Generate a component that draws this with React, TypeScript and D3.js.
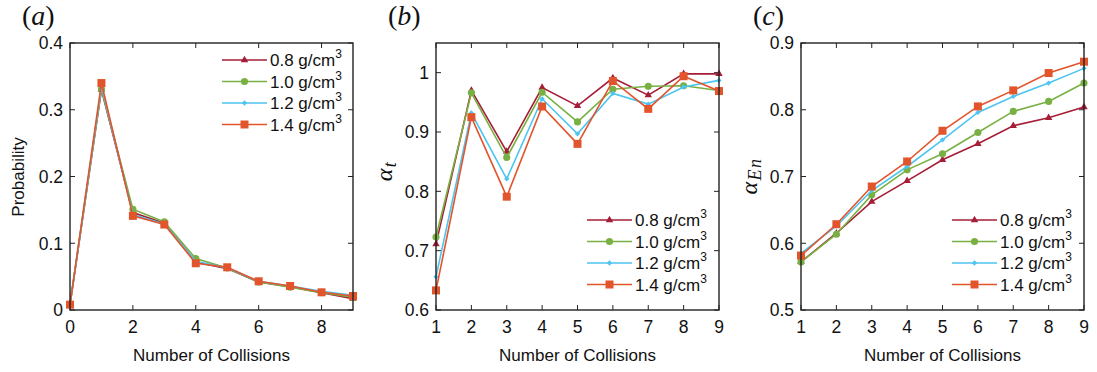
import React, { useRef, useEffect } from "react";
import * as d3 from "d3";

const densities = ["0.8", "1.0", "1.2", "1.4"];
const seriesColors = ["#a51d36", "#78b043", "#4ec4f0", "#e2542b"];

const collisionsA = [0, 1, 2, 3, 4, 5, 6, 7, 8, 9];
const collisionsBC = [1, 2, 3, 4, 5, 6, 7, 8, 9];

// (a) probability of n collisions
const prob08 = [0.008, 0.33, 0.146, 0.13, 0.072, 0.062, 0.042, 0.035, 0.026, 0.017];
const prob10 = [0.008, 0.331, 0.151, 0.132, 0.077, 0.063, 0.042, 0.034, 0.026, 0.019];
const prob12 = [0.008, 0.335, 0.143, 0.129, 0.073, 0.063, 0.043, 0.036, 0.028, 0.022];
const prob14 = [0.008, 0.34, 0.141, 0.128, 0.07, 0.064, 0.043, 0.036, 0.0265, 0.021];

// (b) alpha_t
const alphaT08 = [0.711, 0.97, 0.867, 0.975, 0.944, 0.991, 0.962, 0.998, 0.998];
const alphaT10 = [0.723, 0.966, 0.857, 0.967, 0.917, 0.972, 0.977, 0.978, 0.97];
const alphaT12 = [0.656, 0.932, 0.821, 0.956, 0.897, 0.965, 0.947, 0.976, 0.987];
const alphaT14 = [0.633, 0.925, 0.791, 0.943, 0.88, 0.986, 0.939, 0.994, 0.969];

// (c) alpha_En
const alphaEn08 = [0.572, 0.615, 0.6625, 0.6935, 0.725, 0.749, 0.776, 0.788, 0.804];
const alphaEn10 = [0.572, 0.6135, 0.6725, 0.71, 0.734, 0.766, 0.7975, 0.8125, 0.84];
const alphaEn12 = [0.585, 0.626, 0.679, 0.715, 0.755, 0.796, 0.82, 0.84, 0.862];
const alphaEn14 = [0.5815, 0.6285, 0.685, 0.7225, 0.7685, 0.805, 0.829, 0.855, 0.872];

const xTicksA = [0, 2, 4, 6, 8];
const yTicksA = [0, 0.1, 0.2, 0.3, 0.4];
const yTicksB = [0.6, 0.7, 0.8, 0.9, 1];
const yTicksC = [0.5, 0.6, 0.7, 0.8, 0.9];

const SANS = "'Liberation Sans', Arial, Helvetica, sans-serif";
const SERIF = "'Liberation Serif', 'Times New Roman', serif";

const symbolTypes = [d3.symbolTriangle, d3.symbolCircle, d3.symbolSquare, d3.symbolSquare];
const symbolSizes = [24, 40, 14, 64];
const symbolRotate = [0, 0, 45, 0];

export default function App() {
  const svgRef = useRef(null);

  useEffect(() => {
    const width = 1097;
    const height = 372;
    const top = 43;
    const bottom = 310;

    const panels = [
      {
        tag: "a",
        left: 70,
        right: 353,
        xs: collisionsA,
        xDomain: [0, 9],
        xTicks: xTicksA,
        yDomain: [0, 0.4],
        yTicks: yTicksA,
        series: [prob08, prob10, prob12, prob14],
        yLabel: "prob",
        labelY: 177,
        legendX: 222,
        legendY: 60,
      },
      {
        tag: "b",
        left: 436,
        right: 719,
        xs: collisionsBC,
        xDomain: [1, 9],
        xTicks: collisionsBC,
        yDomain: [0.6, 1.05],
        yTicks: yTicksB,
        series: [alphaT08, alphaT10, alphaT12, alphaT14],
        yLabel: "t",
        labelY: 171,
        legendX: 587,
        legendY: 220,
      },
      {
        tag: "c",
        left: 801,
        right: 1084,
        xs: collisionsBC,
        xDomain: [1, 9],
        xTicks: collisionsBC,
        yDomain: [0.5, 0.9],
        yTicks: yTicksC,
        series: [alphaEn08, alphaEn10, alphaEn12, alphaEn14],
        yLabel: "En",
        labelY: 176,
        legendX: 952,
        legendY: 220,
      },
    ];

    const svg = d3
      .select(svgRef.current)
      .attr("width", width)
      .attr("height", height)
      .attr("viewBox", [0, 0, width, height]);
    svg.selectAll("*").remove();
    svg.append("rect").attr("width", width).attr("height", height).attr("fill", "#fff");

    const tickLen = 5;

    panels.forEach((p) => {
      const x = d3.scaleLinear().domain(p.xDomain).range([p.left, p.right]);
      const y = d3.scaleLinear().domain(p.yDomain).range([bottom, top]);
      const g = svg.append("g");

      // ticks, mirrored on all sides
      p.xTicks.forEach((t) => {
        g.append("line")
          .attr("x1", x(t)).attr("x2", x(t))
          .attr("y1", bottom).attr("y2", bottom - tickLen)
          .attr("stroke", "#222").attr("stroke-width", 1);
        g.append("line")
          .attr("x1", x(t)).attr("x2", x(t))
          .attr("y1", top).attr("y2", top + tickLen)
          .attr("stroke", "#222").attr("stroke-width", 1);
        g.append("text")
          .attr("x", x(t)).attr("y", 333)
          .attr("text-anchor", "middle")
          .attr("font-family", SANS).attr("font-size", 17.5)
          .attr("fill", "#111")
          .text(String(t));
      });
      p.yTicks.forEach((t) => {
        g.append("line")
          .attr("x1", p.left).attr("x2", p.left + tickLen)
          .attr("y1", y(t)).attr("y2", y(t))
          .attr("stroke", "#222").attr("stroke-width", 1);
        g.append("line")
          .attr("x1", p.right).attr("x2", p.right - tickLen)
          .attr("y1", y(t)).attr("y2", y(t))
          .attr("stroke", "#222").attr("stroke-width", 1);
        g.append("text")
          .attr("x", p.left - 7).attr("y", y(t))
          .attr("dy", "0.36em")
          .attr("text-anchor", "end")
          .attr("font-family", SANS).attr("font-size", 17.5)
          .attr("fill", "#111")
          .text(String(+t.toFixed(2)));
      });

      // series
      const line = d3
        .line<number>()
        .x((_, i) => x(p.xs[i]))
        .y((d) => y(d));
      p.series.forEach((vals, si) => {
        g.append("path")
          .attr("d", line(vals))
          .attr("fill", "none")
          .attr("stroke", seriesColors[si])
          .attr("stroke-width", 1.6);
        const sym = d3.symbol().type(symbolTypes[si]).size(symbolSizes[si]);
        g.selectAll(null)
          .data(vals)
          .join("path")
          .attr("d", sym)
          .attr("fill", seriesColors[si])
          .attr(
            "transform",
            (d, i) => `translate(${x(p.xs[i])},${y(d)}) rotate(${symbolRotate[si]})`
          );
      });

      // frame
      g.append("rect")
        .attr("x", p.left).attr("y", top)
        .attr("width", p.right - p.left).attr("height", bottom - top)
        .attr("fill", "none").attr("stroke", "#222").attr("stroke-width", 1.4);

      // x label
      g.append("text")
        .attr("x", (p.left + p.right) / 2).attr("y", 361)
        .attr("text-anchor", "middle")
        .attr("font-family", SANS).attr("font-size", 17)
        .attr("fill", "#111")
        .text("Number of Collisions");

      // y label
      if (p.yLabel === "prob") {
        g.append("text")
          .attr("transform", `translate(24,${p.labelY}) rotate(-90)`)
          .attr("text-anchor", "middle")
          .attr("font-family", SANS).attr("font-size", 17)
          .attr("fill", "#111")
          .text("Probability");
      } else {
        const lab = g.append("text")
          .attr("transform", `translate(${p.left - 44},${p.labelY}) rotate(-90)`)
          .attr("text-anchor", "middle")
          .attr("font-family", SERIF).attr("font-style", "italic")
          .attr("font-size", 24)
          .attr("letter-spacing", 1.5)
          .attr("fill", "#111");
        lab.append("tspan").text("α");
        lab.append("tspan").attr("font-size", 18).attr("dy", 4).text(p.yLabel);
      }

      // panel tag
      const tag = g.append("text")
        .attr("x", p.left - 48).attr("y", 25)
        .attr("font-family", SERIF).attr("font-size", 28)
        .attr("fill", "#111");
      tag.append("tspan").text("(");
      tag.append("tspan").attr("font-style", "italic").text(p.tag);
      tag.append("tspan").text(")");

      // legend
      densities.forEach((dens, si) => {
        const ly = p.legendY + si * 21.5;
        const lx = p.legendX;
        g.append("line")
          .attr("x1", lx).attr("x2", lx + 45)
          .attr("y1", ly).attr("y2", ly)
          .attr("stroke", seriesColors[si]).attr("stroke-width", 1.6);
        g.append("path")
          .attr("d", d3.symbol().type(symbolTypes[si]).size(symbolSizes[si])())
          .attr("fill", seriesColors[si])
          .attr("transform", `translate(${lx + 22.5},${ly}) rotate(${symbolRotate[si]})`);
        const t = g.append("text")
          .attr("x", lx + 48).attr("y", ly)
          .attr("dy", "0.36em")
          .attr("font-family", SANS).attr("font-size", 17)
          .attr("fill", "#111");
        t.append("tspan").text(`${dens} g/cm`);
        t.append("tspan").attr("font-size", 12).attr("dy", -8).text("3");
      });
    });
  }, []);

  return (
    <svg
      ref={svgRef}
      style={{ position: "absolute", left: 0, top: 0, display: "block" }}
    />
  );
}
